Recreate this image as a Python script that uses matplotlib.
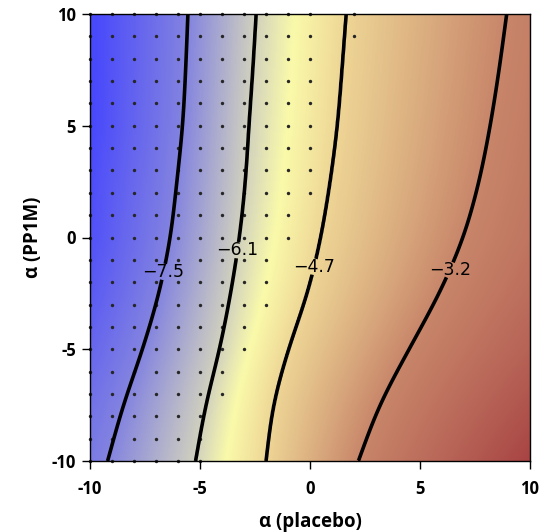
import numpy as np
import matplotlib
matplotlib.use('Agg')
import matplotlib.pyplot as plt
from matplotlib.colors import LinearSegmentedColormap, Normalize

plt.rcParams['font.family'] = ['Open Sans', 'DejaVu Sans']

y_rows = [-10, -7.5, -5, -2.5, 0, 2.5, 5, 7.5, 10]
levels = [-7.5, -6.1, -4.7, -3.2]
x_at_75 = [-9.2, -8.5, -7.6, -6.85, -6.33, -6.05, -5.78, -5.65, -5.55]
x_at_61 = [-5.2, -4.75, -4.1, -3.6, -3.2, -2.93, -2.78, -2.6, -2.45]
x_at_47 = [-2.0, -1.7, -1.0, -0.1, 0.5, 0.92, 1.25, 1.45, 1.64]
x_at_32 = [2.2, 3.13, 4.5, 5.9, 7.0, 7.7, 8.2, 8.6, 8.94]
z_left = [-7.78, -8.06, -8.46, -8.86, -9.15, -9.28, -9.47, -9.5, -9.5]
z_right = [-0.41, -1.07, -1.7, -2.18, -2.51, -2.69, -2.81, -2.9, -2.98]

# colour scale (value -> colour)
cmap_vals = [-9.6, -7.5, -6.1, -5.5, -4.7, -3.2, -0.4]
cmap_cols = ['#4444ff', '#8484e0', '#d2d2be', '#fafaaa', '#eed696', '#c8866a', '#a84444']

# significance dots: for each row y, dots from x=-10 up to x_max
dot_y = list(range(-10, 11))
dot_xmax = [-5, -5, -5, -4, -4, -3, -3, -2, -2, -2, -1, -1, 0, 0, 0, 0, 0, 0, 0, 0, 0]
dot_extra = [(2, 9), (2, 10)]

# contour label positions
label_pos = [(-6.64, -1.54), (-3.34, -0.56), (0.23, -1.32), (6.36, -1.45)]

# build the surface from the read crossings, rounding the corners a little
xg = np.linspace(-10, 10, 401)
yg = np.linspace(-10, 10, 401)
kern = np.exp(-0.5 * (np.arange(-40, 41) / 20.0) ** 2)
kern /= kern.sum()

def smooth_col(c):
    v = np.interp(yg, y_rows, c)
    padded = np.concatenate([2 * v[0] - v[40:0:-1], v, 2 * v[-1] - v[-2:-42:-1]])
    return np.convolve(padded, kern, mode='valid')

cols = [smooth_col(c) for c in (x_at_75, x_at_61, x_at_47, x_at_32)]
zl = np.interp(yg, y_rows, z_left)
zr = np.interp(yg, y_rows, z_right)
Z = np.empty((len(yg), len(xg)))
for i in range(len(yg)):
    knots_x = [-10] + [c[i] for c in cols] + [10]
    knots_z = [zl[i]] + levels + [zr[i]]
    Z[i] = np.interp(xg, knots_x, knots_z)

vmin, vmax = cmap_vals[0], cmap_vals[-1]
pos = [(v - vmin) / (vmax - vmin) for v in cmap_vals]
cmap = LinearSegmentedColormap.from_list('bwr_custom', list(zip(pos, cmap_cols)))

fig = plt.figure(figsize=(5.5, 5.32), dpi=100)
ax = fig.add_axes([90 / 550, 1 - 461 / 532, 440 / 550, 447 / 532])

ax.imshow(Z, origin='lower', extent=(-10, 10, -10, 10), cmap=cmap,
          norm=Normalize(vmin, vmax), aspect='auto', interpolation='bilinear', zorder=0)

dx, dy = [], []
for yv, xm in zip(dot_y, dot_xmax):
    for xv in range(-10, xm + 1):
        dx.append(xv)
        dy.append(yv)
for xv, yv in dot_extra:
    dx.append(xv)
    dy.append(yv)
ax.scatter(dx, dy, s=6, color='#262626', linewidths=0, zorder=1, clip_on=False)

cs = ax.contour(xg, yg, Z, levels=levels, colors='black', linewidths=2.6,
                linestyles='solid', zorder=2)
ax.clabel(cs, fmt=lambda v: '\u2212%.1f' % abs(v), manual=label_pos, inline=True,
          fontsize=12.5, inline_spacing=-9, colors='black')
for t in cs.labelTexts:
    t.set_fontfamily('DejaVu Sans')
    t.set_rotation(0)

ax.set_xlim(-10, 10)
ax.set_ylim(-10, 10)
ticks = [-10, -5, 0, 5, 10]
tick_labels = ['-10', '-5', '0', '5', '10']
ax.set_xticks(ticks)
ax.set_xticklabels(tick_labels)
ax.set_yticks(ticks)
ax.set_yticklabels(tick_labels)
ax.tick_params(direction='out', length=6, width=1, labelsize=12)
ax.tick_params(axis='x', pad=8)
ax.tick_params(axis='y', pad=4)
for lab in ax.get_xticklabels() + ax.get_yticklabels():
    lab.set_fontweight('bold')
for sp in ax.spines.values():
    sp.set_linewidth(1)

ax.set_xlabel('\u03b1 (placebo)', fontsize=13.5, fontweight='bold', labelpad=10)
ax.set_ylabel('\u03b1 (PP1M)', fontsize=13.5, fontweight='bold', labelpad=6)

fig.savefig('out.png', dpi=100)
